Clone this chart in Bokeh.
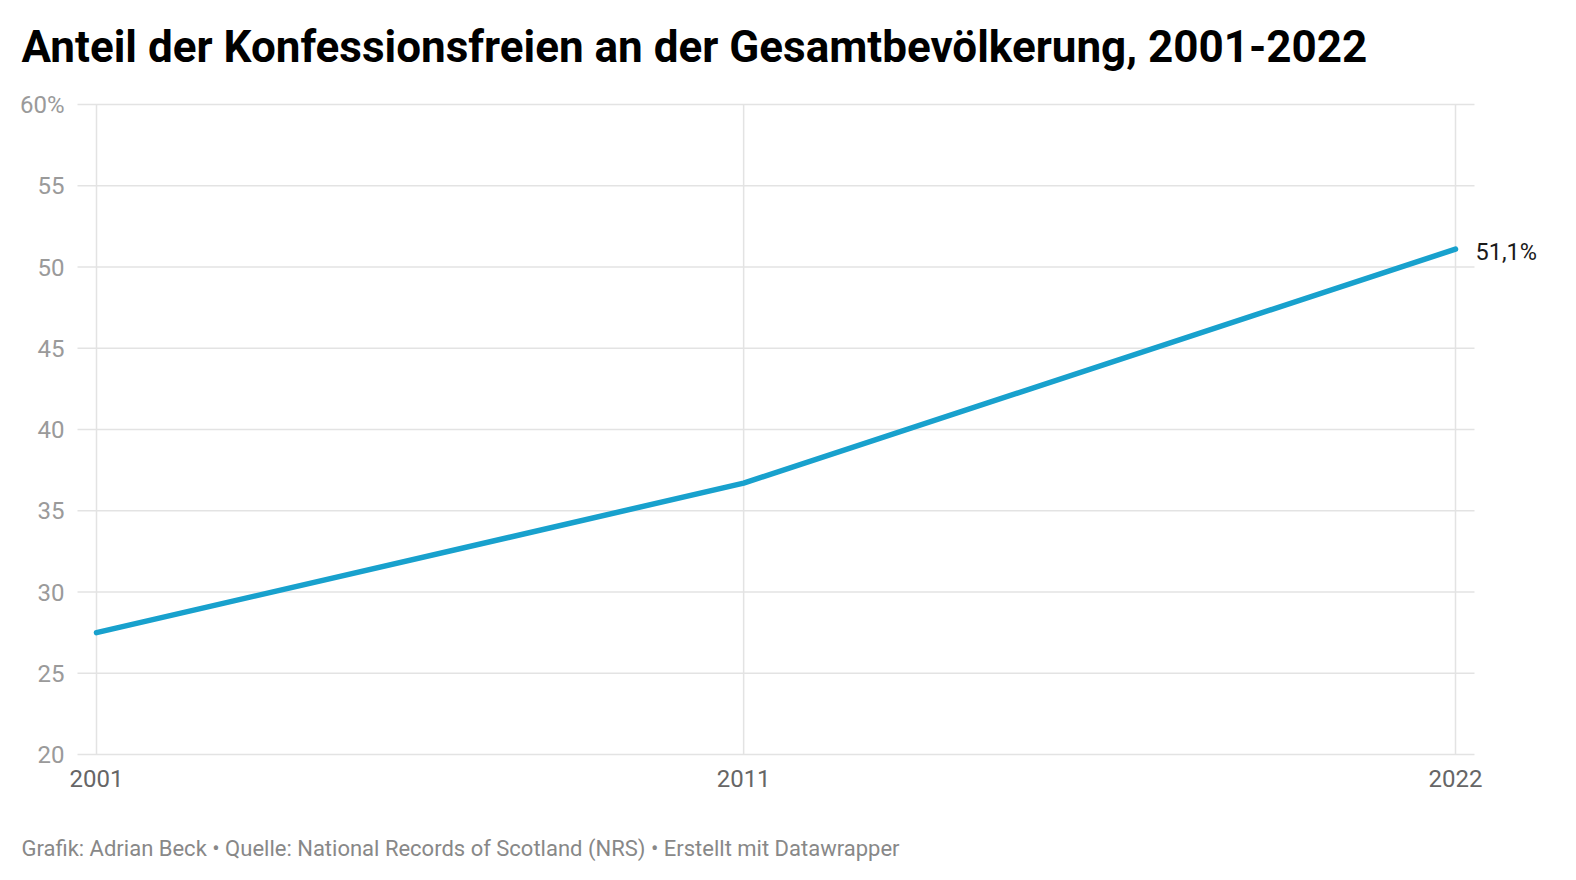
from bokeh.plotting import figure
from bokeh.models import Label, LabelSet, ColumnDataSource
from bokeh.core.properties import value
from bokeh.embed import file_html
from bokeh.resources import INLINE

years = [2001, 2011, 2022]
shares = [27.5, 36.7, 51.1]
year_labels = ["2001", "2011", "2022"]
y_ticks = [20, 25, 30, 35, 40, 45, 50, 55, 60]
y_tick_labels = ["20", "25", "30", "35", "40", "45", "50", "55", "60%"]
title_text = "Anteil der Konfessionsfreien an der Gesamtbevölkerung, 2001-2022"
footer_text = "Grafik: Adrian Beck • Quelle: National Records of Scotland (NRS) • Erstellt mit Datawrapper"
end_label = "51,1%"

FONT = "Roboto"
# the frame covers the whole canvas; ranges chosen so the chart area sits where it should
XR = (1999.51655, 2023.8699)
YR = (12.2462, 66.4)
X0, X1 = 2000.7064, 2022.2936   # horizontal extent of the grid

p = figure(width=1576, height=880, output_backend="svg", toolbar_location=None,
           x_range=XR, y_range=YR, x_axis_location=None, y_axis_location=None,
           min_border=0, min_border_left=0, min_border_right=0,
           min_border_top=0, min_border_bottom=0)
p.outline_line_color = None
p.grid.visible = False
p.background_fill_color = "white"
p.border_fill_color = "white"

GRID = dict(line_color="#e3e3e3", line_width=1.5)
# horizontal grid
p.segment(x0=[X0] * len(y_ticks), x1=[X1] * len(y_ticks), y0=y_ticks, y1=y_ticks, **GRID)
# vertical grid at the years
p.segment(x0=years, x1=years, y0=[y_ticks[0]] * len(years), y1=[y_ticks[-1]] * len(years), **GRID)

src = ColumnDataSource(dict(x=years, y=shares))
p.line("x", "y", source=src, line_color="#18a1cd", line_width=5.5, line_cap="round", line_join="round")

# tick labels
ysrc = ColumnDataSource(dict(x=[X0] * len(y_ticks), y=y_ticks, t=y_tick_labels))
p.add_layout(LabelSet(x="x", y="y", text="t", source=ysrc, x_offset=-13,
                      text_font=value(FONT), text_font_size=value("24px"), text_color=value("#9a9a9a"),
                      text_align=value("right"), text_baseline=value("middle")))
xsrc = ColumnDataSource(dict(x=years, y=[y_ticks[0]] * len(years), t=year_labels))
p.add_layout(LabelSet(x="x", y="y", text="t", source=xsrc, y_offset=-32,
                      text_font=value(FONT), text_font_size=value("24px"), text_color=value("#666666"),
                      text_align=value("center"), text_baseline=value("alphabetic")))

# end label
p.add_layout(Label(x=years[-1], y=shares[-1], text=end_label, x_offset=20, y_offset=-3,
                   text_font=FONT, text_font_size="23.5px", text_color="#1a1a1a",
                   text_baseline="middle", text_align="left"))

# title and footer, anchored at the canvas corners
p.add_layout(Label(x=XR[0], y=YR[1], x_offset=21, y_offset=-46, text=title_text,
                   text_font=FONT, text_font_style="bold", text_font_size="44px",
                   text_color="#000000", text_baseline="alphabetic"))
p.add_layout(Label(x=XR[0], y=YR[0], x_offset=21, y_offset=32, text=footer_text,
                   text_font=FONT, text_font_size="22px",
                   text_color="#888888", text_baseline="alphabetic"))

open("out.html", "w").write(file_html(p, INLINE))
